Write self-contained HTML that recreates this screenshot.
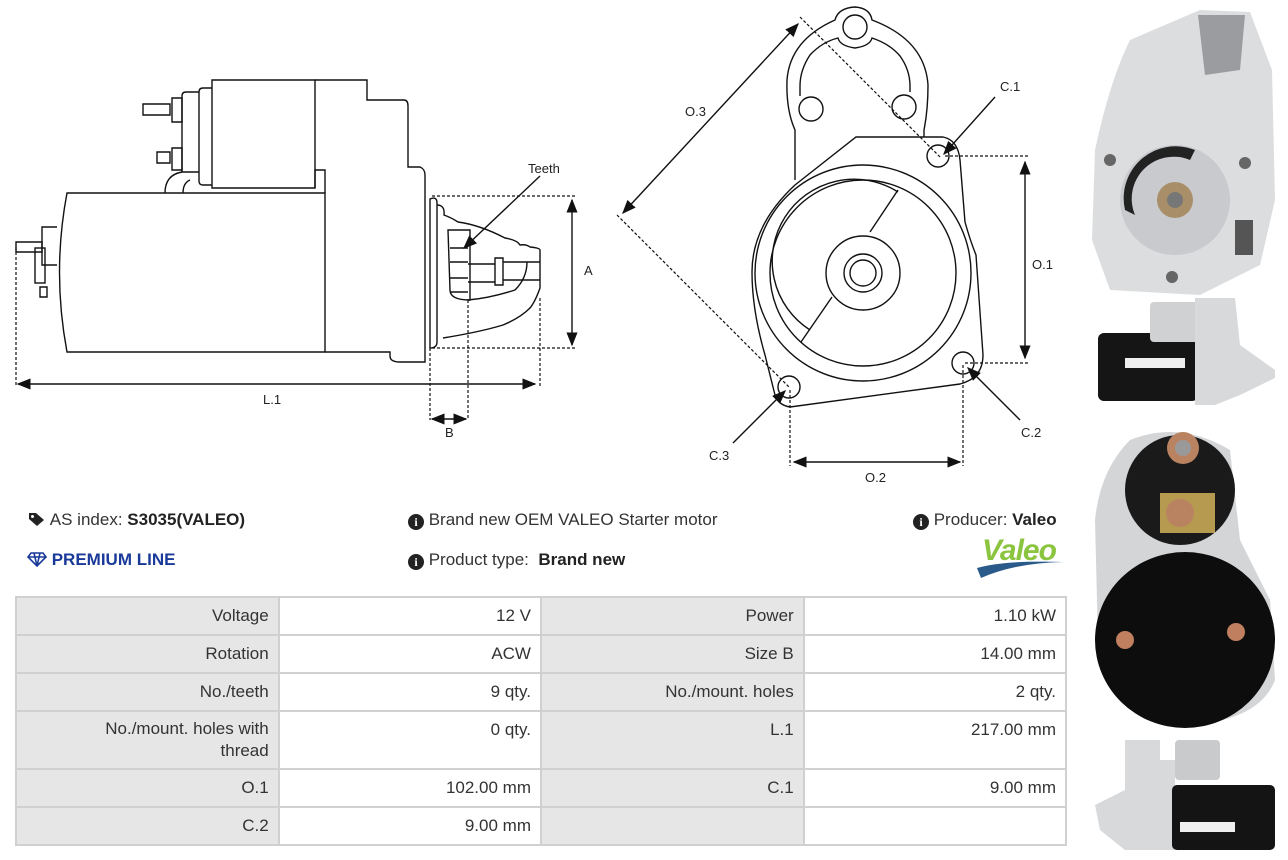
<!DOCTYPE html>
<html><head><meta charset="utf-8"><style>
body{margin:0;width:1288px;height:860px;background:#fff;position:relative;overflow:hidden;font-family:"Liberation Sans",sans-serif;color:#333}
.t{position:absolute;font-size:17px;white-space:nowrap}
table{position:absolute;left:15px;top:596px;border-collapse:collapse;width:1052px;font-size:17px;color:#333}
td{border:2px solid #d0d0d0;text-align:right;padding:0 9px;height:36px;width:245px;vertical-align:middle}
td.l{background:#e6e6e6}
tr.tall td{height:48px;vertical-align:top;padding-top:8px}
</style></head><body>
<svg width="1288" height="860" style="position:absolute;left:0;top:0" fill="none" stroke="#111" stroke-width="1.4" font-family="'Liberation Sans',sans-serif">
<defs><marker id="a" markerWidth="10" markerHeight="8" refX="9" refY="4" orient="auto-start-reverse"><path d="M0,0L10,4L0,8z" fill="#111" stroke="none"/></marker></defs>
<path d="M67,193H325V352H67Q52,272 67,193Z"/>
<path d="M57,227H42V265H57"/>
<rect x="35" y="248" width="10" height="35"/>
<path d="M16,242H42V252H16Z M40,287H47V297H40Z"/>
<path d="M212,80H315V188H212Z"/>
<path d="M212,88H203Q199,88 199,92V181Q199,185 203,185H212"/>
<path d="M199,92H186Q182,92 182,96V172H199"/>
<path d="M143,104H170V115H143Z M172,98H182V122H172Z"/>
<path d="M157,152H170V163H157Z M172,148H182V170H172Z"/>
<path d="M315,80H367V100H404Q408,100 408,106V167H420Q425,169 425,175V362H400Q390,362 390,356V352H325"/>
<path d="M315,188V170H325V193"/>
<path d="M165,193Q165,175 182,172 M183,193Q183,183 190,180"/>
<path d="M430,199Q437,196 437,203V342Q437,348 430,348V199Z"/>
<path d="M437,205Q445,205 444,215Q452,218 458,222Q480,225 505,238Q517,240 520,245Q526,244 530,247Q540,248 540,250V288Q535,302 530,308Q520,318 503,325Q480,332 443,338"/>
<path d="M448,230H470V300Q450,300 450,290Z"/>
<path d="M450,248H468M450,262H468M450,278H468M450,292H468"/>
<path d="M468,264H495M468,282H495 M495,258H503V285H495Z M503,262H540M503,280H540"/>
<path d="M468,300Q490,298 515,290Q527,278 527,262"/>
<g stroke-dasharray="3,2" stroke-width="1.2"><path d="M432,196H575M432,348H575M16,247V386M540,298V386M430,348V420M468,300V420"/></g>
<path d="M572,200V345" marker-start="url(#a)" marker-end="url(#a)"/>
<path d="M18,384H535" marker-start="url(#a)" marker-end="url(#a)"/>
<path d="M432,419H466" marker-start="url(#a)" marker-end="url(#a)"/>
<path d="M540,176L464,248" marker-end="url(#a)"/>
<g fill="#222" stroke="none" font-size="13"><text x="528" y="173">Teeth</text><text x="584" y="275">A</text><text x="263" y="404">L.1</text><text x="445" y="437">B</text></g>
<path d="M795,180V130Q786,110 787,80Q790,40 835,20Q838,8 855,7Q870,8 872,20Q925,40 928,85Q928,110 924,130V137"/>
<path d="M800,96V86Q800,70 810,55Q822,42 838,38Q840,46 855,48Q870,46 872,38Q890,44 900,56Q910,70 910,86V92"/>
<path d="M856,137H943Q958,140 960,160L965,222Q970,240 976,255L983,355Q983,378 960,384L790,407Q778,405 775,395L765,355Q752,310 752,272Q752,225 795,185L856,137Z"/>
<circle cx="863" cy="273" r="108"/><circle cx="863" cy="273" r="93"/>
<path d="M898,192A80,80 0 0 0 810,330"/>
<path d="M898,190L870,232M832,297L801,342"/>
<circle cx="863" cy="273" r="37"/><circle cx="863" cy="273" r="19"/><circle cx="863" cy="273" r="13"/>
<circle cx="855" cy="27" r="12"/><circle cx="811" cy="109" r="12"/><circle cx="904" cy="107" r="12"/>
<circle cx="938" cy="156" r="11"/><circle cx="963" cy="363" r="11"/><circle cx="789" cy="387" r="11"/>
<g stroke-dasharray="3,2" stroke-width="1.2"><path d="M800,17L940,157M617,215L789,387M945,156H1030M965,363H1030M790,390V466M963,365V466"/></g>
<path d="M798,24L623,213" marker-start="url(#a)" marker-end="url(#a)"/>
<path d="M1025,162V358" marker-start="url(#a)" marker-end="url(#a)"/>
<path d="M794,462H960" marker-start="url(#a)" marker-end="url(#a)"/>
<path d="M995,97L944,154" marker-end="url(#a)"/>
<path d="M1020,420L968,368" marker-end="url(#a)"/>
<path d="M733,443L785,391" marker-end="url(#a)"/>
<g fill="#222" stroke="none" font-size="13"><text x="685" y="116">O.3</text><text x="1000" y="91">C.1</text><text x="1032" y="269">O.1</text><text x="1021" y="437">C.2</text><text x="709" y="460">C.3</text><text x="865" y="482">O.2</text></g>
<g stroke="none">
<path d="M1130,40L1200,10L1250,12L1272,70L1275,200L1260,265L1200,295L1110,290L1092,240L1095,150Q1110,80 1130,40Z" fill="#dcdddf"/>
<path d="M1198,15L1245,15L1240,70L1205,75Z" fill="#9a9c9f"/>
<circle cx="1175" cy="200" r="55" fill="#c9cacd"/><circle cx="1175" cy="200" r="18" fill="#a88f6a"/><circle cx="1175" cy="200" r="8" fill="#777"/>
<path d="M1125,210A52,52 0 0 1 1195,150L1190,160A42,42 0 0 0 1135,215Z" fill="#222"/>
<circle cx="1110" cy="160" r="6" fill="#666"/><circle cx="1245" cy="163" r="6" fill="#666"/><circle cx="1172" cy="277" r="6" fill="#666"/>
<rect x="1235" y="220" width="18" height="35" fill="#555"/>
<rect x="1098" y="333" width="100" height="68" rx="6" fill="#151515"/>
<rect x="1150" y="302" width="50" height="40" rx="4" fill="#cfd1d3"/>
<path d="M1195,298H1235L1240,345L1275,370L1275,378L1240,395L1215,405H1195Z" fill="#d8d9db"/>
<rect x="1125" y="358" width="60" height="10" fill="#eee"/>
<path d="M1130,440Q1180,420 1230,450L1240,540L1270,600L1275,680Q1260,720 1190,725Q1110,720 1098,640L1095,520Q1100,470 1130,440Z" fill="#d4d5d7"/>
<circle cx="1180" cy="490" r="55" fill="#1a1a1a"/>
<circle cx="1183" cy="448" r="16" fill="#b98362"/><circle cx="1183" cy="448" r="8" fill="#999"/>
<rect x="1160" y="493" width="55" height="40" fill="#b59a50"/><circle cx="1180" cy="513" r="14" fill="#b98362"/>
<ellipse cx="1185" cy="640" rx="90" ry="88" fill="#0d0d0d"/>
<circle cx="1125" cy="640" r="9" fill="#c08060"/><circle cx="1236" cy="632" r="9" fill="#c08060"/>
<path d="M1125,740H1160V760H1175V850H1125L1100,830L1095,805L1125,790Z" fill="#d8d9db"/>
<rect x="1175" y="740" width="45" height="40" rx="4" fill="#c8cacc"/>
<rect x="1172" y="785" width="103" height="65" rx="5" fill="#141414"/>
<rect x="1180" y="822" width="55" height="10" fill="#eee"/>
</g>
</svg>
<div class="t" style="left:28px;top:510px">
<svg width="18" height="16" style="vertical-align:-2px"><path d="M1,2H8L16,9L9,15L1,8Z" fill="#222"/><circle cx="4.5" cy="5.5" r="1.5" fill="#fff"/></svg> AS index: <b style="color:#222">S3035(VALEO)</b></div>
<div class="t" style="left:27px;top:550px;color:#1a3a9a;font-weight:bold">
<svg width="20" height="16" style="vertical-align:-2px" fill="none" stroke="#1a3a9a" stroke-width="1.6"><path d="M4,2H16L19,6L10,15L1,6Z M1,6H19 M7,2L10,15L13,2"/></svg> PREMIUM LINE</div>
<div class="t" style="left:408px;top:510px"><span style="display:inline-block;width:16px;height:16px;border-radius:50%;background:#222;color:#fff;font-size:12px;text-align:center;line-height:16px;font-weight:bold;font-family:'Liberation Serif',serif;vertical-align:-1px">i</span> Brand new OEM VALEO Starter motor</div>
<div class="t" style="left:408px;top:550px"><span style="display:inline-block;width:16px;height:16px;border-radius:50%;background:#222;color:#fff;font-size:12px;text-align:center;line-height:16px;font-weight:bold;font-family:'Liberation Serif',serif;vertical-align:-1px">i</span> Product type: &nbsp;<b style="color:#222">Brand new</b></div>
<div class="t" style="left:913px;top:510px"><span style="display:inline-block;width:16px;height:16px;border-radius:50%;background:#222;color:#fff;font-size:12px;text-align:center;line-height:16px;font-weight:bold;font-family:'Liberation Serif',serif;vertical-align:-1px">i</span> Producer: <b style="color:#222">Valeo</b></div>
<div class="t" style="left:982px;top:534px;font-size:30px;font-weight:bold;font-style:italic;color:#8bc53f;letter-spacing:-1px">Valeo</div>
<svg width="90" height="20" style="position:absolute;left:975px;top:560px"><path d="M2,8Q30,0 88,2Q40,3 6,18Z" fill="#2a5a8a"/></svg>
<table>
<tr><td class="l">Voltage</td><td>12 V</td><td class="l">Power</td><td>1.10 kW</td></tr>
<tr><td class="l">Rotation</td><td>ACW</td><td class="l">Size B</td><td>14.00 mm</td></tr>
<tr><td class="l">No./teeth</td><td>9 qty.</td><td class="l">No./mount. holes</td><td>2 qty.</td></tr>
<tr class="tall"><td class="l" style="line-height:22px;padding-top:6px">No./mount. holes with<br>thread</td><td>0 qty.</td><td class="l">L.1</td><td>217.00 mm</td></tr>
<tr><td class="l">O.1</td><td>102.00 mm</td><td class="l">C.1</td><td>9.00 mm</td></tr>
<tr><td class="l">C.2</td><td>9.00 mm</td><td class="l"></td><td></td></tr>
</table>
</body></html>
